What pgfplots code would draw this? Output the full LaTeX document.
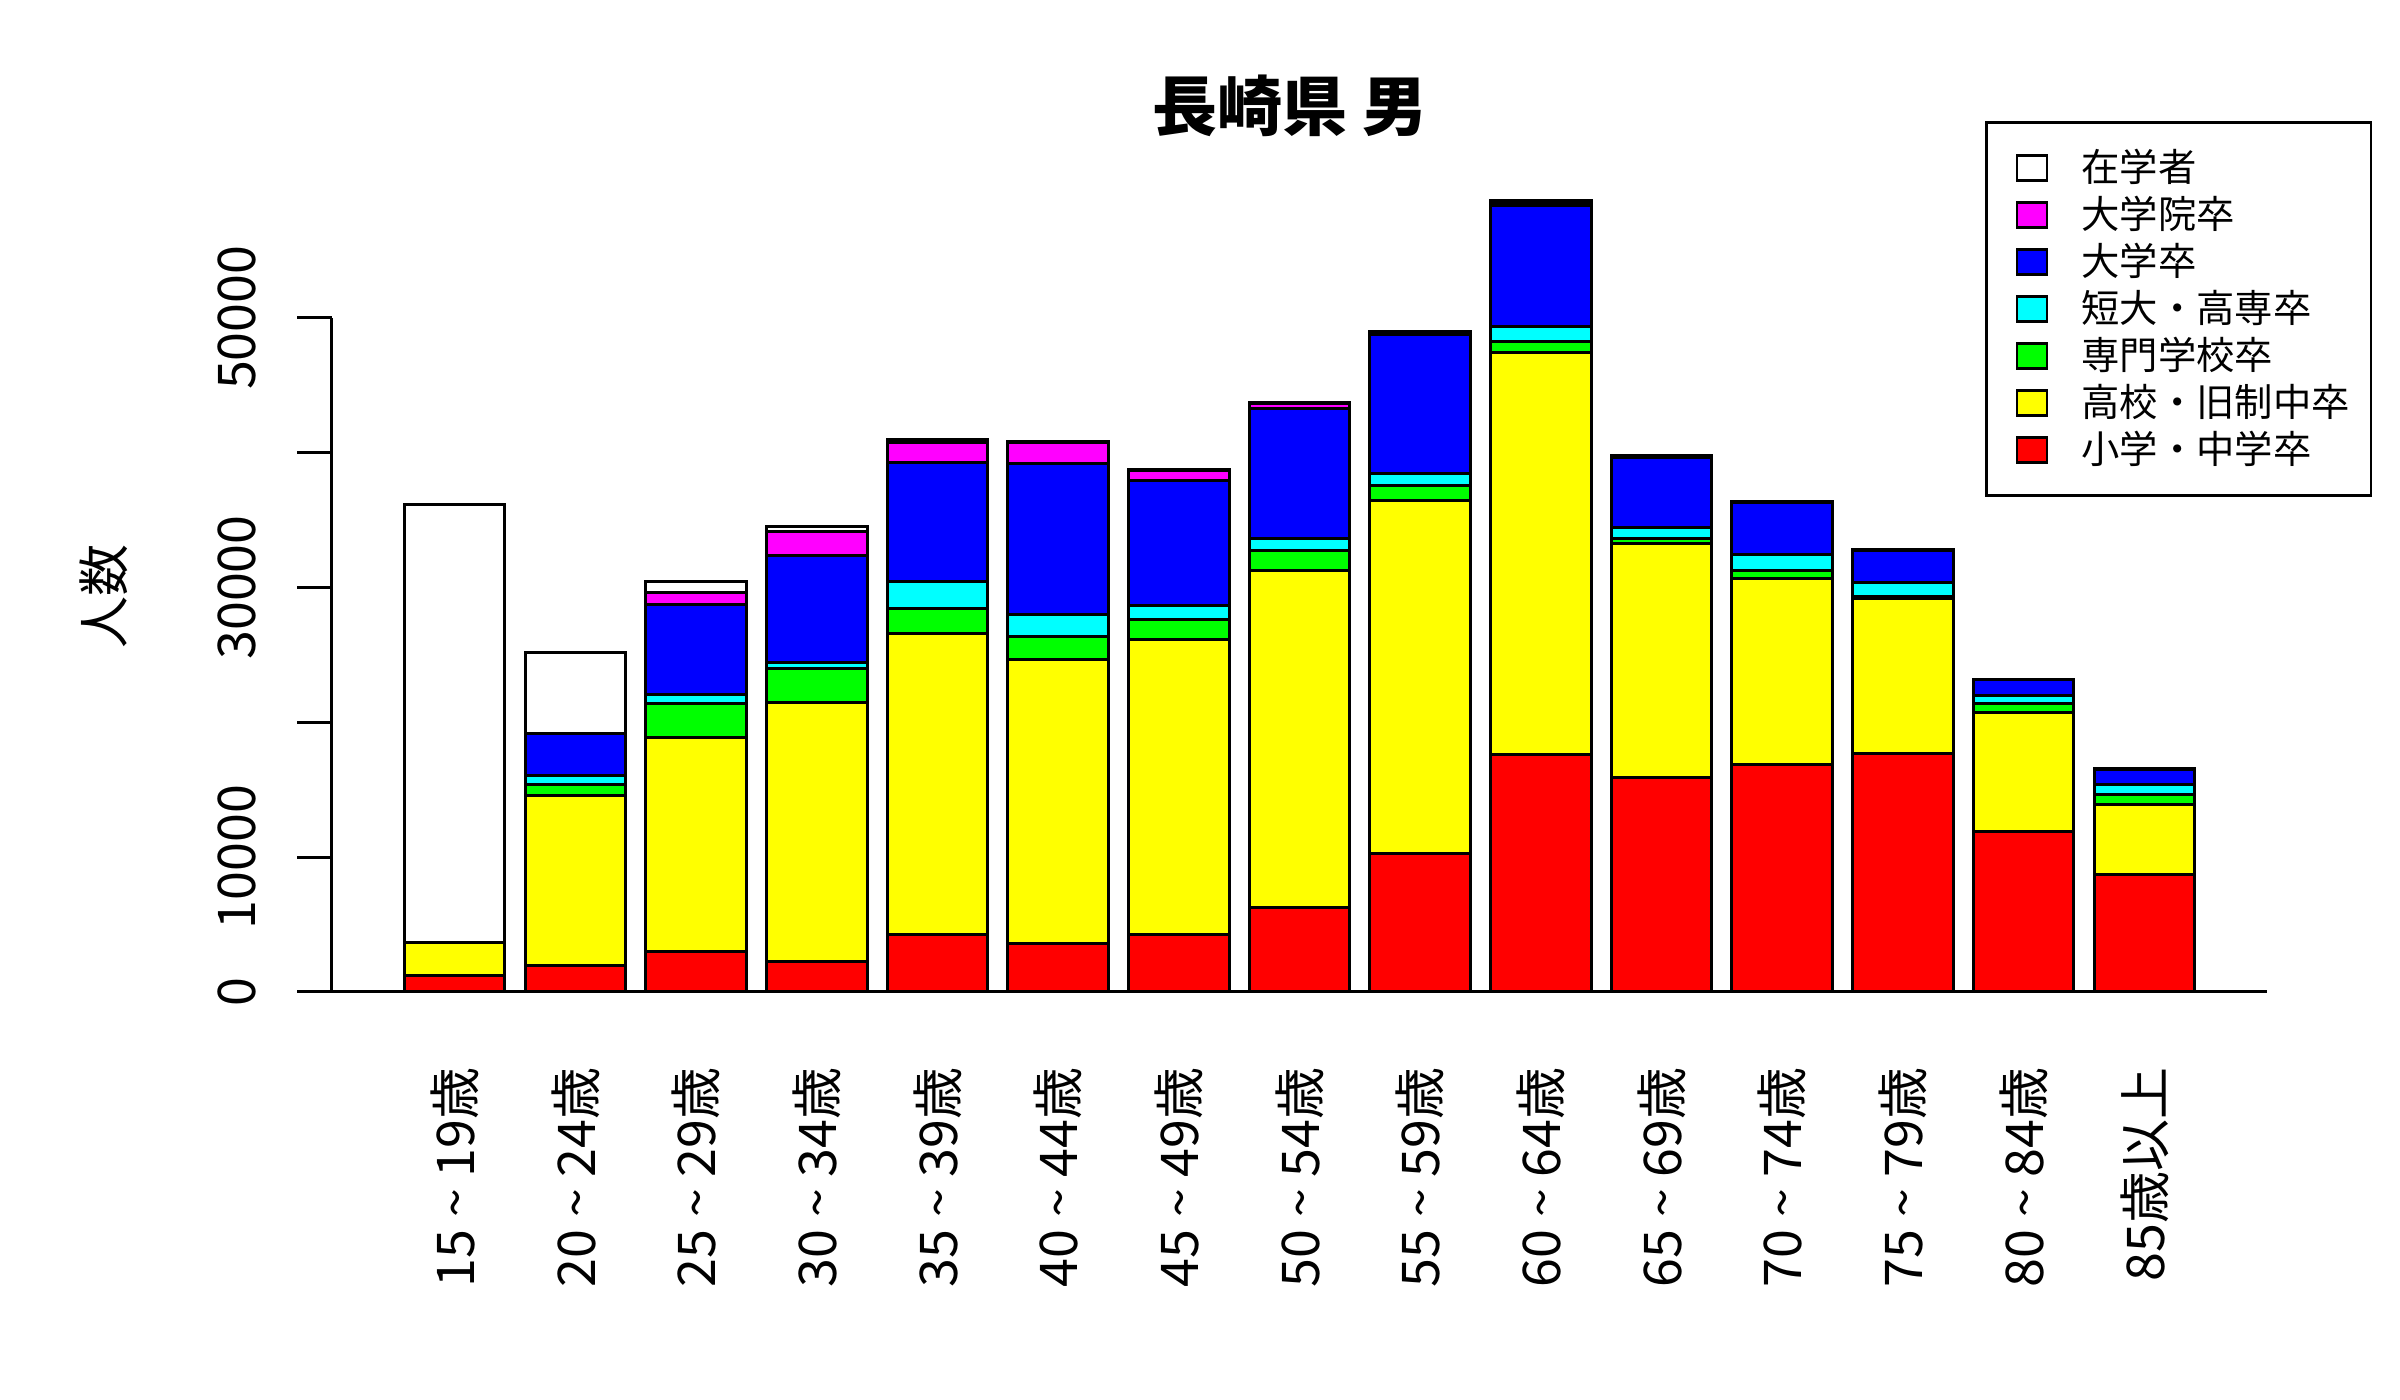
\documentclass[border=0pt]{standalone}
\usepackage{fontspec}
\setmainfont{Noto Sans CJK JP}
\usepackage{pgfplots}
\pgfplotsset{compat=1.18}
\usepackage{pgfplotstable}
\pgfplotstableread{
x r y g c b m w
0 1220 2430 0 0 0 0 32520
1 1930 12630 800 690 3120 30 5980
2 3020 15830 2550 630 6730 840 850
3 2280 19170 2540 430 7940 1800 350
4 4270 22320 1820 2050 8820 1440 290
5 3630 21060 1700 1610 11170 1610 30
6 4270 21890 1500 1010 9230 800 30
7 6230 25030 1450 920 9630 400 30
8 10290 26140 1100 950 10280 150 80
9 17590 29840 780 1180 8950 230 100
10 15940 17350 320 860 5180 80 50
11 16870 13830 550 1200 3850 50 30
12 17690 11490 150 1020 2400 50 30
13 11940 8820 610 615 1175 20 20
14 8700 5190 730 780 1120 10 10
}\data
\pgfplotsset{
  mybar/.style={fill=#1, draw=black, line width=0.9pt,
    legend image code/.code={\path (0pt,0pt); \draw[fill=#1,draw=black,line width=0.8pt] (2.4pt,-3.75pt) rectangle (11.4pt,3.75pt);}},
}
\definecolor{cred}{RGB}{255,0,0}
\definecolor{cyel}{RGB}{255,255,0}
\definecolor{cgrn}{RGB}{0,255,0}
\definecolor{ccyn}{RGB}{0,255,255}
\definecolor{cblu}{RGB}{0,0,255}
\definecolor{cmag}{RGB}{255,0,255}
\begin{document}
\begin{tikzpicture}
\path[use as bounding box] (-99.6pt,-122.4pt) rectangle (620.4pt,297.6pt);
\begin{axis}[
  at={(0pt,0pt)}, anchor=south west,
  scale only axis, width=580.5pt, height=242.7pt,
  xmin=-1.0167, xmax=15.0167, ymin=0, ymax=60000,
  clip=false,
  ybar stacked, bar width=0.8333,
  axis lines*=left, axis line style={draw=none},
  tick align=outside, major tick length=10.5pt,
  scaled y ticks=false,
  ytick={0,10000,20000,30000,40000,50000},
  yticklabels={0,10000,,30000,,50000},
  ytick style={line width=0.9pt, black},
  xtick={0,...,14},
  xtick style={draw=none},
  xticklabels={15 {\textasciitilde} 19歳,20 {\textasciitilde} 24歳,25 {\textasciitilde} 29歳,30 {\textasciitilde} 34歳,35 {\textasciitilde} 39歳,40 {\textasciitilde} 44歳,45 {\textasciitilde} 49歳,50 {\textasciitilde} 54歳,55 {\textasciitilde} 59歳,60 {\textasciitilde} 64歳,65 {\textasciitilde} 69歳,70 {\textasciitilde} 74歳,75 {\textasciitilde} 79歳,80 {\textasciitilde} 84歳,85歳以上},
  /pgf/number format/assume math mode=true,
  xticklabel shift=12pt,
  yticklabel shift=12.4pt,
  xticklabel style={rotate=90, anchor=east, inner sep=0pt, font=\fontsize{15.6}{18}\selectfont},
  yticklabel style={rotate=90, anchor=base, inner sep=0pt, font=\fontsize{15.6}{18}\selectfont},
  title={長崎県 男},
  title style={at={(0.495,1.071)}, anchor=center, font=\fontsize{19.5}{22}\selectfont\bfseries},
  ylabel={人数},
  ylabel style={at={(-0.1178,0.4883)}, anchor=center, rotate=0, font=\fontsize{15.6}{18}\selectfont},
  reverse legend,
  legend cell align=left,
  legend style={at={(0.8543,1.0766)}, anchor=north west, draw=black, line width=0.8pt,
    inner xsep=6.3pt, inner ysep=6.6pt, row sep=0pt, column sep=10pt,
    font=\fontsize{11.5}{13}\selectfont,
    nodes={inner sep=0pt, minimum height=14.1pt, anchor=west}},
]
\addplot[mybar=cred] table[x=x,y=r]{\data};
\addplot[mybar=cyel] table[x=x,y=y]{\data};
\addplot[mybar=cgrn] table[x=x,y=g]{\data};
\addplot[mybar=ccyn] table[x=x,y=c]{\data};
\addplot[mybar=cblu] table[x=x,y=b]{\data};
\addplot[mybar=cmag] table[x=x,y=m]{\data};
\addplot[mybar=white] table[x=x,y=w]{\data};
\legend{小学・中学卒,高校・旧制中卒,専門学校卒,短大・高専卒,大学卒,大学院卒,在学者}
\draw[line width=0.9pt] (axis cs:-1.0167,0) -- (axis cs:15.0167,0);
\draw[line width=0.9pt] (axis cs:-1.0167,0) -- (axis cs:-1.0167,50000);
\end{axis}
\end{tikzpicture}
\end{document}
